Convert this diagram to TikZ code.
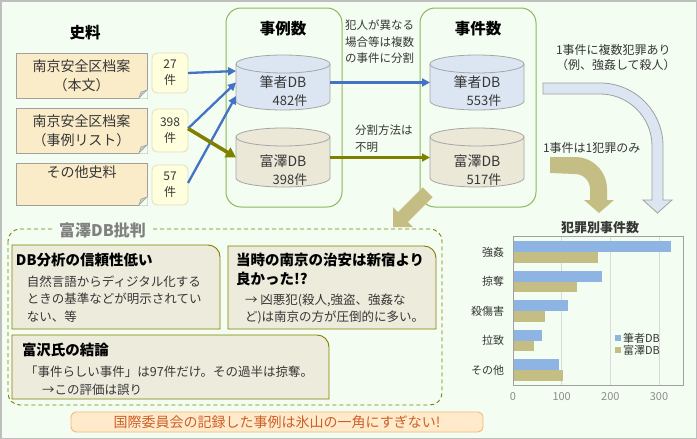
\documentclass[tikz,border=0pt]{standalone}
\usepackage{fontspec}
\setmainfont{Noto Sans CJK JP}
\usetikzlibrary{arrows.meta,calc}
\definecolor{bg}{RGB}{243,253,241}
\definecolor{framegray}{RGB}{190,190,190}
\definecolor{grpgreen}{RGB}{140,185,90}
\definecolor{srcfill}{RGB}{250,236,200}
\definecolor{srcborder}{RGB}{160,160,160}
\definecolor{foldgray}{RGB}{200,200,200}
\definecolor{cntfill}{RGB}{255,255,221}
\definecolor{cntborder}{RGB}{225,222,185}
\definecolor{cylblue}{RGB}{220,230,242}
\definecolor{cylolive}{RGB}{235,232,216}
\definecolor{cylborder}{RGB}{166,166,166}
\definecolor{arrowblue}{RGB}{68,114,196}
\definecolor{arrowolive}{RGB}{128,128,0}
\definecolor{khaki}{RGB}{196,189,132}
\definecolor{critfill}{RGB}{237,235,220}
\definecolor{critborder}{RGB}{128,128,0}
\definecolor{banfill}{RGB}{255,235,204}
\definecolor{banborder}{RGB}{247,184,110}
\definecolor{bantext}{RGB}{205,95,40}
\definecolor{barblue}{RGB}{141,180,226}
\definecolor{barolive}{RGB}{196,189,132}
\definecolor{gridgray}{RGB}{217,217,217}
\definecolor{axisgray}{RGB}{160,160,160}
\definecolor{ticktext}{RGB}{140,140,140}
\definecolor{darktext}{RGB}{55,55,55}
\definecolor{titlegray}{RGB}{128,128,128}
\newcommand\myfs[2]{\fontsize{#1pt}{#2pt}\selectfont}
\newcommand\mycyl[4]{%
  \filldraw[fill=#4, draw=cylborder, line width=0.8pt] (#1-47,#2+9) -- (#1-47,#3-9)
    arc[start angle=180,end angle=0,x radius=47,y radius=9] -- (#1+47,#2+9)
    arc[start angle=0,end angle=-180,x radius=47,y radius=9] -- cycle;
  \draw[cylborder, line width=0.8pt] (#1-47,#2+9) arc[start angle=180,end angle=0,x radius=47,y radius=9];}
\begin{document}
\begin{tikzpicture}[x=1pt,y=-1pt,
  every node/.style={inner sep=0pt, outer sep=0pt},
  ttl/.style={font=\myfs{15.5}{19}\bfseries, text=black},
  srcbox/.style={draw=srcborder, fill=srcfill, line width=0.8pt, minimum width=131pt, align=center, font=\myfs{14}{19}, text=darktext},
  cntbox/.style={draw=cntborder, fill=cntfill, rounded corners=5pt, line width=0.8pt, minimum width=36pt, align=center, font=\myfs{12}{16}, text=darktext},
  cylbox/.style={minimum width=94pt, minimum height=59pt},
  grp/.style={draw=grpgreen, line width=1pt, rounded corners=15pt, minimum width=116pt, minimum height=199pt},
  dbname/.style={font=\myfs{14}{18}, text=darktext},
  dbnum/.style={font=\myfs{13}{18}, text=darktext},
  note/.style={font=\myfs{11.5}{16.5}, text=darktext, align=left, anchor=west},
  barrow/.style={draw=arrowblue, line width=2.3pt, -{Triangle[length=8pt,width=8pt]}},
  oarrow/.style={draw=arrowolive, line width=3.6pt, -{Triangle[length=10pt,width=11pt]}},
  crit/.style={fill=critfill, draw=critborder, line width=0.9pt},
  crttl/.style={font=\myfs{14.5}{19}\bfseries, text=black, align=left, anchor=west},
  body/.style={font=\myfs{12.5}{17.5}, text=darktext, align=left, anchor=west},
  catlab/.style={font=\myfs{11}{14}, text=darktext, anchor=east},
  ticklab/.style={font=\myfs{11}{14}, text=ticktext},
  leg/.style={font=\myfs{11}{14}, text=darktext, anchor=west}
]
\useasboundingbox (0,0) rectangle (697,439);
\draw[draw=framegray, fill=bg, line width=1.5pt] (0.75,0.75) rectangle (696.25,438.25);

% sources
\node[ttl] (tsrc) at (85,33) {史料};
\node[srcbox, minimum height=45pt] (s1) at (81.5,75.5) {南京安全区档案\\（本文）};
\node[srcbox, minimum height=45pt] (s2) at (81.5,130.5) {南京安全区档案\\（事例リスト）};
\node[srcbox, minimum height=42pt] (s3) at (81.5,184) {その他史料\\ \strut};
\foreach \s in {s1,s2,s3}{
  \fill[bg] ($(\s.south east)+(-8,0.5)$) -- ($(\s.south east)+(0.5,0.5)$) -- ($(\s.south east)+(0.5,-8)$) -- cycle;
  \filldraw[fill=foldgray, draw=srcborder, line width=0.6pt] ($(\s.south east)+(-8,0)$) -- ($(\s.south east)+(-6,-6)$) -- ($(\s.south east)+(0,-8)$) -- cycle;
}
\node[cntbox, minimum height=40pt] (n1) at (170,73) {27\\件};
\node[cntbox, minimum height=43pt] (n2) at (170,130.5) {398\\件};
\node[cntbox, minimum height=40pt] (n3) at (170,185) {57\\件};

% groups
\node[grp] (g1) at (284,107.5) {};
\node[grp] (g2) at (478,107.5) {};
\node[ttl] (tg1) at (283,29) {事例数};
\node[ttl] (tg2) at (478,29) {事件数};

% cylinders
\mycyl{283}{55}{110}{cylblue}
\mycyl{283}{128}{187}{cylolive}
\mycyl{477}{55}{110}{cylblue}
\mycyl{477}{128}{187}{cylolive}
\node[cylbox] (c1) at (283,82.5) {};
\node[cylbox] (c2) at (283,157.5) {};
\node[cylbox] (c3) at (477,82.5) {};
\node[cylbox] (c4) at (477,157.5) {};
\node[dbname] (c1a) at (283,82) {筆者DB};
\node[dbnum]  (c1b) at (290,101) {482件};
\node[dbname] (c2a) at (283,161) {富澤DB};
\node[dbnum]  (c2b) at (290,180) {398件};
\node[dbname] (c3a) at (477,82) {筆者DB};
\node[dbnum]  (c3b) at (484,101) {553件};
\node[dbname] (c4a) at (477,161) {富澤DB};
\node[dbnum]  (c4b) at (484,180) {517件};

% arrows
\draw[barrow] (n1.east) -- ([yshift=11.5pt]c1.west);
\draw[barrow] ([yshift=2pt]n2.east) -- (c1.west);
\draw[barrow] ([yshift=2pt]n3.east) -- ([yshift=-13.5pt]c1.west);
\draw[oarrow] ([yshift=2pt]n2.east) -- (c2.west);
\draw[barrow] (c1.east) -- (c3.west);
\draw[draw=arrowolive, line width=2.6pt, -{Triangle[length=8pt,width=8pt]}] (c2.east) -- (c4.west);

\node[note] (m1) at (345,42) {犯人が異なる\\場合等は複数\\の事件に分割};
\node[note] (m2) at (355,138.5) {分割方法は\\不明};

% right side
\node[note, font=\myfs{12}{15.5}] (m3) at (556,57.5) {1事件に複数犯罪あり\\（例、強姦して殺人）};
\node[note, font=\myfs{12}{15.5}] (m4) at (543,147.5) {1事件は1犯罪のみ};
\filldraw[fill=cylblue, draw=axisgray, line width=0.8pt] (543,83) -- (600,83)
  arc[start angle=270,end angle=360,radius=63] -- (663,200) -- (672,200) -- (657.5,213) -- (643,200) -- (652,200) -- (652,146)
  arc[start angle=360,end angle=270,radius=52] -- (543,94) -- cycle;
\fill[khaki] (550,157) -- (575,157) arc[start angle=270,end angle=360,radius=32] -- (607,200) -- (614,200) -- (599,213) -- (584,200) -- (590,200) -- (590,189)
  arc[start angle=360,end angle=270,radius=15] -- (550,173) -- cycle;

% diagonal arrow
\fill[khaki] (393,227) -- (412.8,227) -- (407.8,222) -- (432.6,197.3) -- (422.7,187.4) -- (398,212.2) -- (393,207.2) -- cycle;

% critique group
\draw[critborder, dashed, line width=0.9pt, rounded corners=12pt, dash pattern=on 4pt off 3pt] (8,229) rectangle (442,405);
\node[font=\myfs{16}{19}\bfseries, text=titlegray, fill=bg, inner xsep=5pt, inner ysep=1pt] (tcrit) at (102.5,230) {富澤DB批判};

\filldraw[crit] (12,245) -- (208,245) arc[start angle=270,end angle=360,radius=12] -- (220,329) -- (12,329) -- cycle;
\node[crttl] (a1) at (16,260) {DB分析の信頼性低い};
\node[body] (a2) at (27,298.7) {自然言語からディジタル化する\\ときの基準などが明示されてい\\ない、等};

\filldraw[crit] (228,246) -- (424,246) arc[start angle=270,end angle=360,radius=12] -- (436,329) -- (228,329) -- cycle;
\node[crttl] (b1) at (236,269.5) {当時の南京の治安は新宿より\\良かった!?};
\node[body] (b2) at (245,309) {→ 凶悪犯(殺人,強盗、強姦な\\ど)は南京の方が圧倒的に多い。};

\filldraw[crit] (12,335) -- (317,335) arc[start angle=270,end angle=360,radius=12] -- (329,399) -- (12,399) -- cycle;
\node[crttl] (d1) at (22,350) {富沢氏の結論};
\node[body] (d2) at (25,372) {「事件らしい事件」は97件だけ。その過半は掠奪。};
\node[body] (d3) at (42,390) {→この評価は誤り};

% banner
\node[fill=banfill, draw=banborder, line width=0.9pt, rounded corners=5pt, minimum width=412pt, minimum height=20pt, font=\myfs{14}{17}, text=bantext] (ban) at (277,422) {国際委員会の記録した事例は氷山の一角にすぎない!};

% chart
\node[font=\myfs{13}{16}\bfseries, text=darktext] (ctitle) at (600,228) {犯罪別事件数};
\foreach \v in {100,200,300}{
  \draw[gridgray, line width=0.8pt] ({513+\v*0.4867},236) -- ({513+\v*0.4867},385);}
\foreach \i/\lab/\bv/\ov in {0/強姦/325/175, 1/掠奪/183/131, 2/殺傷害/113/66, 3/拉致/60/43, 4/その他/94/103}{
  \fill[barblue] (513,{241+29.6*\i}) rectangle ({513+\bv*0.4867},{252+29.6*\i});
  \fill[barolive] (513,{252+29.6*\i}) rectangle ({513+\ov*0.4867},{262.5+29.6*\i});
  \node[catlab] (cat\i) at (504,{252+29.6*\i}) {\lab};
}
\draw[axisgray, line width=0.9pt] (513,236) rectangle (683,385);
\foreach \v in {0,100,200,300}{
  \node[ticklab] (tk\v) at ({513+\v*0.4867},397) {\v};}
\fill[barblue] (615,335) rectangle (621,341);
\node[leg] (lg1) at (623,338) {筆者DB};
\fill[barolive] (615,347) rectangle (621,353);
\node[leg] (lg2) at (623,350) {富澤DB};
\end{tikzpicture}
\end{document}
